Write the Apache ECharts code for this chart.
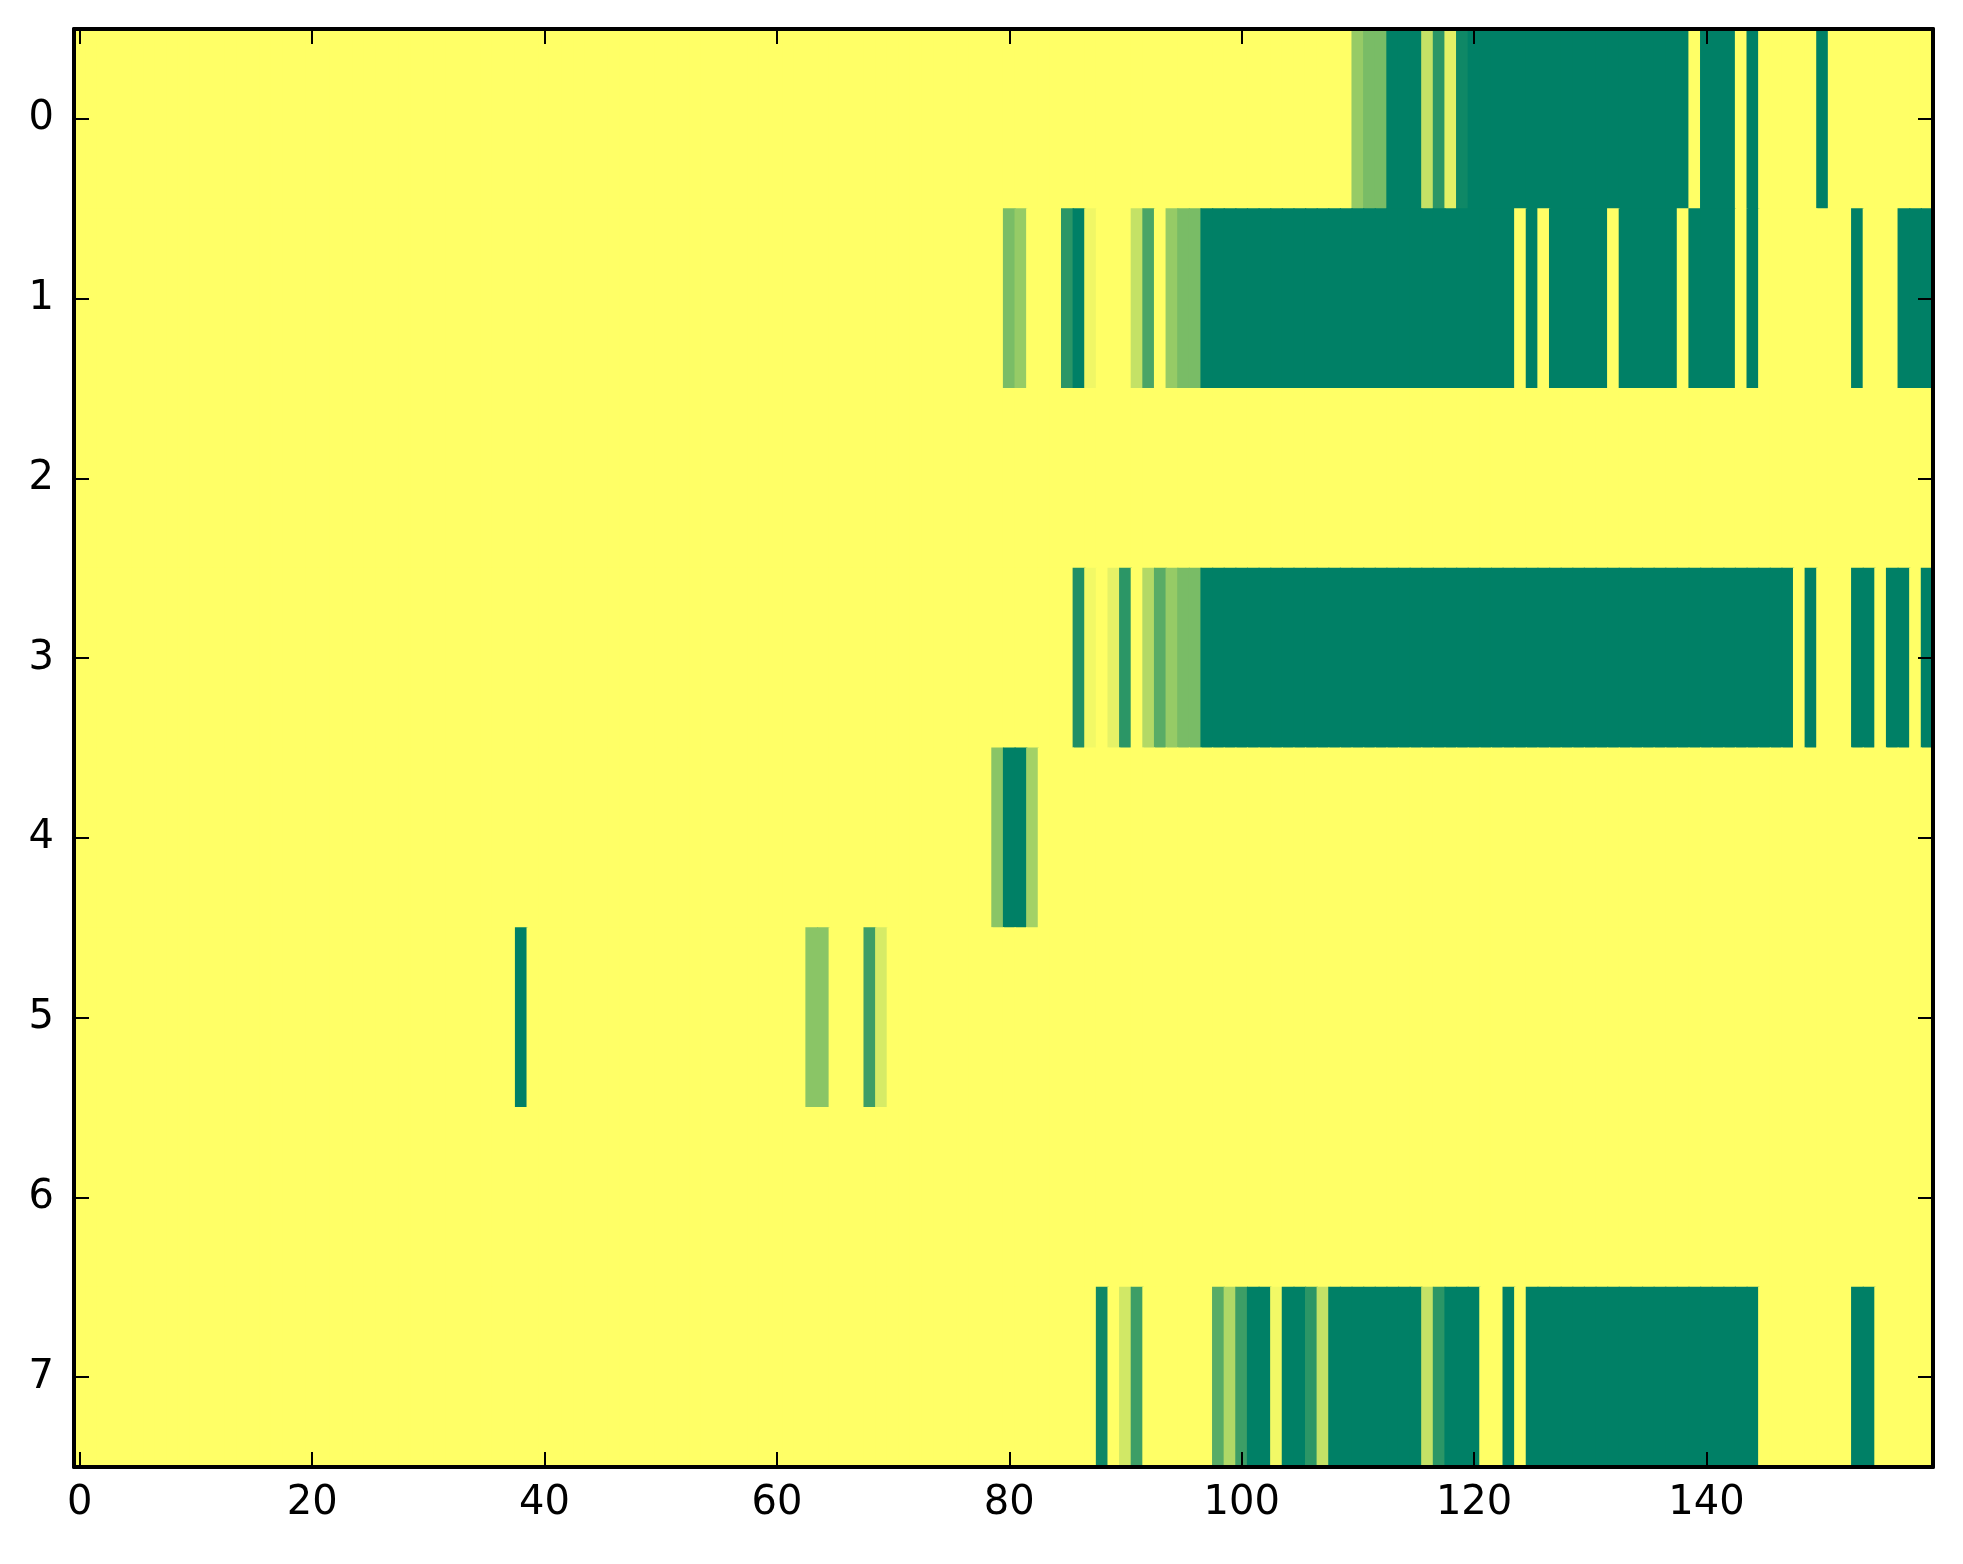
<!DOCTYPE html>
<html>
<head>
<meta charset="utf-8">
<script src="https://cdn.jsdelivr.net/npm/echarts@6/dist/echarts.min.js"></script>
<style>
html,body{margin:0;padding:0;background:#fff;}
#chart{width:1963px;height:1564px;}
</style>
</head>
<body>
<div id="chart"></div>
<script>
// Grid size
const numCols = 160;
const rowLabels = ['0','1','2','3','4','5','6','7'];
const xTickStep = 20;

// Non-zero runs per row: [firstColumn, lastColumn, value]; all other cells are 0
const row0Runs = [[110,110,0.41],[111,112,0.525],[113,115,1],[116,116,0.23],[117,117,0.83],[118,118,0.11],[119,119,0.94],[120,138,1],[140,142,1],[144,144,1],[150,150,1]];
const row1Runs = [[80,80,0.52],[81,81,0.41],[85,85,0.83],[86,86,1],[87,87,0.06],[91,91,0.23],[92,92,0.71],[94,94,0.41],[95,96,0.525],[97,123,1],[125,125,1],[127,131,1],[133,137,1],[139,142,1],[144,144,1],[153,153,1],[157,159,1]];
const row2Runs = [];
const row3Runs = [[86,86,0.88],[87,87,0.05],[89,89,0.10],[90,90,0.83],[92,92,0.30],[93,93,0.65],[94,94,0.41],[95,96,0.525],[97,147,1],[149,149,1],[153,154,1],[156,157,1],[159,159,1]];
const row4Runs = [[79,79,0.46],[80,81,1],[82,82,0.36]];
const row5Runs = [[38,38,1],[63,64,0.46],[68,68,0.76],[69,69,0.16]];
const row6Runs = [];
const row7Runs = [[88,88,0.94],[90,90,0.18],[91,91,0.76],[98,98,0.65],[99,99,0.31],[100,100,0.76],[101,102,1],[103,103,0.05],[104,105,1],[106,106,0.83],[107,107,0.23],[108,115,1],[116,116,0.23],[117,117,0.83],[118,120,1],[123,123,1],[125,144,1],[153,154,1]];

const allRuns = [row0Runs,row1Runs,row2Runs,row3Runs,row4Runs,row5Runs,row6Runs,row7Runs];

const xCats = [];
for (let i = 0; i < numCols; i++) xCats.push(String(i));

const data = [];
allRuns.forEach((runs, r) => {
  const row = new Array(numCols).fill(0);
  runs.forEach(([a, b, v]) => { for (let c = a; c <= b; c++) row[c] = v; });
  row.forEach((v, c) => data.push([c, r, v]));
});

const chart = echarts.init(document.getElementById('chart'), null, {renderer: 'canvas'});
const labelFont = {color: '#000', fontFamily: 'DejaVu Sans', fontSize: 40};
const lineStyle = {color: '#000', width: 4};
const tickStyle = {color: '#000', width: 2};

function renderCell(params, api) {
  const c = api.coord([api.value(0), api.value(1)]);
  const s = api.size([1, 1]);
  const pad = 0.6;
  return {
    type: 'rect',
    shape: {x: c[0] - s[0] / 2 - pad, y: c[1] - s[1] / 2 - pad, width: s[0] + 2 * pad, height: s[1] + 2 * pad},
    style: {fill: api.visual('color')},
    silent: true
  };
}

chart.setOption({
  backgroundColor: '#fff',
  animation: false,
  grid: {left: 74, right: 30, top: 29, bottom: 97, containLabel: false, outerBoundsMode: 'none'},
  visualMap: {show: false, min: 0, max: 1, dimension: 2, inRange: {color: ['#ffff66', '#008066']}},
  xAxis: [
    {type: 'category', data: xCats, position: 'bottom', z: 10,
     axisLine: {show: true, lineStyle: lineStyle},
     axisTick: {show: true, inside: true, length: 15, alignWithLabel: true, interval: xTickStep - 1, lineStyle: tickStyle},
     axisLabel: Object.assign({interval: xTickStep - 1, margin: 17}, labelFont),
     splitLine: {show: false}},
    {type: 'category', data: xCats, position: 'top', z: 10,
     axisLine: {show: true, lineStyle: lineStyle},
     axisTick: {show: true, inside: true, length: 15, alignWithLabel: true, interval: xTickStep - 1, lineStyle: tickStyle},
     axisLabel: {show: false}, splitLine: {show: false}}
  ],
  yAxis: [
    {type: 'category', data: rowLabels, inverse: true, position: 'left', z: 10,
     axisLine: {show: true, lineStyle: lineStyle},
     axisTick: {show: true, inside: true, length: 15, alignWithLabel: true, interval: 0, lineStyle: tickStyle},
     axisLabel: Object.assign({interval: 0, margin: 20}, labelFont),
     splitLine: {show: false}},
    {type: 'category', data: rowLabels, inverse: true, position: 'right', z: 10,
     axisLine: {show: true, lineStyle: lineStyle},
     axisTick: {show: true, inside: true, length: 15, alignWithLabel: true, interval: 0, lineStyle: tickStyle},
     axisLabel: {show: false}, splitLine: {show: false}}
  ],
  series: [{
    type: 'custom', xAxisIndex: 0, yAxisIndex: 0, data: data,
    encode: {x: 0, y: 1},
    renderItem: renderCell,
    clip: true,
    progressive: 0
  }]
});
</script>
</body>
</html>
